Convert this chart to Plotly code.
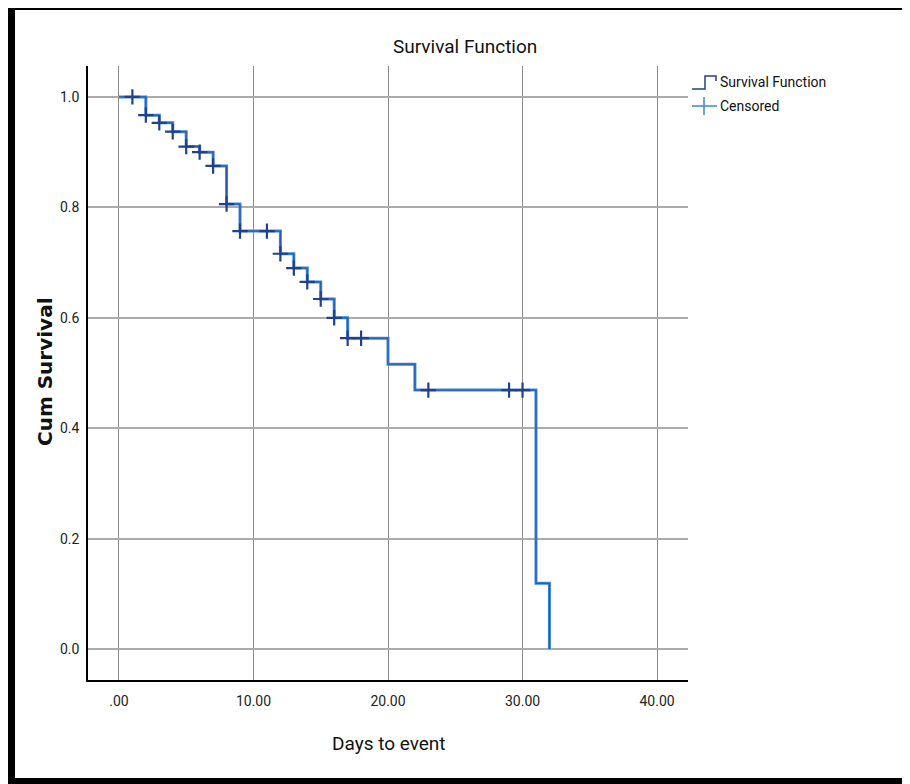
import plotly.graph_objects as go

# Step function (time, cumulative survival)
event_times = [0, 2, 3, 4, 5, 6, 7, 8, 9, 12, 13, 14, 15, 16, 17, 20, 22, 31, 32]
survival = [1.0, 0.967, 0.953, 0.937, 0.910, 0.900, 0.875, 0.806, 0.757, 0.716,
            0.690, 0.665, 0.634, 0.600, 0.563, 0.516, 0.469, 0.119, 0.0]

# Censored observations
censor_times = [1, 2, 3, 4, 5, 6, 7, 8, 9, 11, 12, 13, 14, 15, 16, 17, 18, 23, 29, 30]
censor_surv = [1.0, 0.967, 0.953, 0.937, 0.910, 0.900, 0.875, 0.806, 0.757, 0.757,
               0.716, 0.690, 0.665, 0.634, 0.600, 0.563, 0.563, 0.469, 0.469, 0.469]

x_ticks = [0, 10, 20, 30, 40]
x_tick_labels = [".00", "10.00", "20.00", "30.00", "40.00"]
y_ticks = [0.0, 0.2, 0.4, 0.6, 0.8, 1.0]
y_tick_labels = ["0.0", "0.2", "0.4", "0.6", "0.8", "1.0"]

NARROW = "Liberation Sans Narrow, Arial Narrow, Roboto, sans-serif"
BLUE = "#3C86DA"
NAVY = "#22408C"

# page offset introduced by the default body margin
OFF = 8
W, H = 910 - OFF, 784 - OFF
# plot area in page pixels: x 88..688, y 66..680
L, T = 88 - OFF, 66 - OFF
R = W - (688 - OFF)
B = H - (680 - OFF)
PW, PH = W - L - R, H - T - B


def px(xp):
    return (xp - OFF - L) / PW


def py(yp):
    return (H - B - (yp - OFF)) / PH


fig = go.Figure()

fig.add_trace(go.Scatter(x=event_times, y=survival, mode="lines",
                         line=dict(shape="hv", color=BLUE, width=3),
                         showlegend=False, hoverinfo="skip"))
fig.add_trace(go.Scatter(x=event_times, y=survival, mode="lines",
                         line=dict(shape="hv", color=NAVY, width=1),
                         opacity=0.7, name="Survival Function", showlegend=False))
fig.add_trace(go.Scatter(x=censor_times, y=censor_surv, mode="markers",
                         marker=dict(symbol="cross-thin", size=11,
                                     line=dict(color=NAVY, width=2.2)),
                         name="Censored", showlegend=False))

shapes = []
# outer black frame (left, top, bottom)
shapes.append(dict(type="rect", xref="paper", yref="paper", x0=px(0), x1=px(15),
                   y0=py(800), y1=py(0), fillcolor="black", line=dict(width=0), layer="above"))
shapes.append(dict(type="rect", xref="paper", yref="paper", x0=px(0), x1=px(920),
                   y0=py(10), y1=py(0), fillcolor="black", line=dict(width=0), layer="above"))
shapes.append(dict(type="rect", xref="paper", yref="paper", x0=px(0), x1=px(920),
                   y0=py(800), y1=py(778), fillcolor="black", line=dict(width=0), layer="above"))
# legend glyphs
shapes.append(dict(type="path", xref="paper", yref="paper",
                   path=f"M {px(692)} {py(89)} L {px(705)} {py(89)} L {px(705)} {py(76)} L {px(716)} {py(76)} L {px(716)} {py(81)}",
                   line=dict(color=NAVY, width=1.5)))
shapes.append(dict(type="line", xref="paper", yref="paper", x0=px(692), x1=px(717),
                   y0=py(106), y1=py(106), line=dict(color=BLUE, width=1.5)))
shapes.append(dict(type="line", xref="paper", yref="paper", x0=px(704), x1=px(704),
                   y0=py(97), y1=py(115), line=dict(color=BLUE, width=1.5)))

annotations = [
    dict(text="Survival Function", xref="paper", yref="paper", x=px(465), y=py(47),
         showarrow=False, font=dict(family=NARROW, size=19, color="#111"),
         xanchor="center", yanchor="middle"),
    dict(text="Survival Function", xref="paper", yref="paper", x=px(718), y=py(82),
         showarrow=False, font=dict(family=NARROW, size=14, color="#111"),
         xanchor="left", yanchor="middle"),
    dict(text="Censored", xref="paper", yref="paper", x=px(718), y=py(106),
         showarrow=False, font=dict(family=NARROW, size=14, color="#111"),
         xanchor="left", yanchor="middle"),
    dict(text="Days to event", xref="paper", yref="paper", x=px(389), y=py(743),
         showarrow=False, font=dict(family=NARROW, size=19, color="#111"),
         xanchor="center", yanchor="middle"),
    dict(text="<b>Cum Survival</b>", xref="paper", yref="paper", x=px(45), y=py(372),
         showarrow=False, textangle=-90,
         font=dict(family="DejaVu Sans, Verdana, sans-serif", size=20, color="#111"),
         xanchor="center", yanchor="middle"),
]

fig.update_layout(
    width=W, height=H,
    margin=dict(l=L, r=R, t=T, b=B, pad=0),
    paper_bgcolor="white", plot_bgcolor="white",
    showlegend=False,
    shapes=shapes, annotations=annotations,
    xaxis=dict(range=[-2.3, 42.3], tickvals=x_ticks, ticktext=x_tick_labels,
               showgrid=True, gridcolor="#8a8a8a", gridwidth=1,
               zeroline=False, showline=True, linecolor="black", linewidth=1.5,
               ticks="", ticklabelstandoff=7,
               tickfont=dict(family=NARROW, size=14, color="#222")),
    yaxis=dict(range=[-0.056, 1.056], tickvals=y_ticks, ticktext=y_tick_labels,
               showgrid=True, gridcolor="#ababab", gridwidth=2,
               zeroline=False, showline=True, linecolor="black", linewidth=1.5,
               ticks="", ticklabelstandoff=4,
               tickfont=dict(family=NARROW, size=14, color="#222")),
)

fig.write_html("out.html")
